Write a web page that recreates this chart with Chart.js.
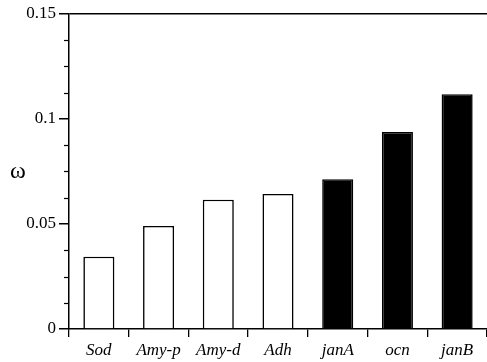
<!DOCTYPE html>
<html>
<head>
<meta charset="utf-8">
<script src="https://cdn.jsdelivr.net/npm/chart.js@4"></script>
<style>
  html, body { margin: 0; padding: 0; background: #fff; }
  #wrap { width: 487px; height: 362px; }
</style>
</head>
<body>
<div id="wrap"><canvas id="omegaChart" width="487" height="362"></canvas></div>
<script>
// genes along the x axis
const genes = ["Sod", "Amy-p", "Amy-d", "Adh", "janA", "ocn", "janB"];
// omega values
const omega = [0.0344, 0.0491, 0.0616, 0.0643, 0.0713, 0.0938, 0.1118];
// open bars vs filled bars
const filled = [false, false, false, false, true, true, true];
// y axis ticks
const yMajor = [0, 0.05, 0.1, 0.15];
const yMinorStep = 0.0125;

const serif = "'Liberation Serif', 'Times New Roman', serif";

// minor ticks + upright omega label
const extras = {
  id: "extras",
  afterDraw(chart) {
    const ctx = chart.ctx;
    const y = chart.scales.y;
    ctx.save();
    ctx.strokeStyle = "#000";
    ctx.lineWidth = 1.2;
    for (let i = 1; i * yMinorStep < 0.15; i++) {
      if (i % 4 === 0) continue;
      const py = Math.round(y.getPixelForValue(i * yMinorStep)) + 0.5;
      ctx.beginPath();
      ctx.moveTo(y.right - 5, py);
      ctx.lineTo(y.right, py);
      ctx.stroke();
    }
    ctx.fillStyle = "#000";
    ctx.font = "24px " + serif;
    ctx.textAlign = "center";
    ctx.textBaseline = "middle";
    ctx.fillText("ω", 18, y.getPixelForValue(0.075));
    ctx.restore();
  }
};

new Chart(document.getElementById("omegaChart"), {
  type: "bar",
  data: {
    labels: genes,
    datasets: [{
      data: omega,
      backgroundColor: filled.map(f => f ? "#000" : "#fff"),
      borderColor: "#000",
      borderWidth: 1.6,
      borderSkipped: "bottom",
      barPercentage: 0.52,
      categoryPercentage: 1
    }]
  },
  options: {
    responsive: false,
    animation: false,
    layout: { padding: { top: 14, right: 0, left: 0, bottom: 0 } },
    plugins: { legend: { display: false }, tooltip: { enabled: false } },
    scales: {
      x: {
        offset: true,
        grid: {
          offset: true,
          drawOnChartArea: false,
          color: "#000",
          tickLength: 8,
          lineWidth: 1.3
        },
        border: { display: true, color: "#000", width: 1.5 },
        ticks: {
          color: "#000",
          padding: 3,
          maxRotation: 0,
          font: { family: serif, size: 17, style: "italic" }
        },
        afterFit(scale) { scale.height = 33; }
      },
      y: {
        min: 0,
        max: 0.15,
        afterBuildTicks(scale) {
          scale.ticks = yMajor.map(v => ({ value: v }));
        },
        grid: {
          drawOnChartArea: true,
          color: c => (c.tick && c.tick.value === 0.15) ? "#000" : "rgba(0,0,0,0)",
          tickColor: "#000",
          tickLength: 10,
          lineWidth: 1.5
        },
        border: { display: true, color: "#000", width: 1.5 },
        ticks: {
          color: "#000",
          padding: 3,
          font: { family: serif, size: 17 },
          callback: v => String(v)
        },
        afterFit(scale) { scale.width = 69; }
      }
    }
  },
  plugins: [extras]
});
</script>
</body>
</html>
